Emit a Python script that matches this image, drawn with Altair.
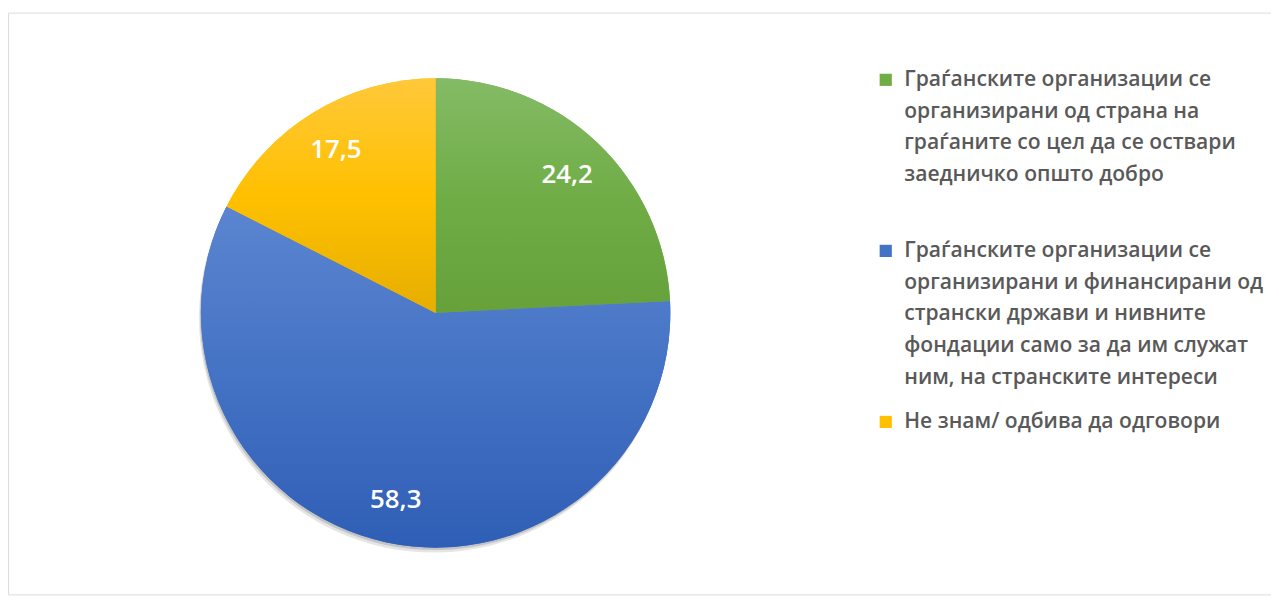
import altair as alt
import pandas as pd

categories = [
    "Граѓанските организации се\nорганизирани од страна на\nграѓаните со цел да се оствари\nзаедничко општо добро\n ",
    "Граѓанските организации се\nорганизирани и финансирани од\nстрански држави и нивните\nфондации само за да им служат\nним, на странските интереси",
    "Не знам/ одбива да одговори",
]
values = [24.2, 58.3, 17.5]
labels = ["24,2", "58,3", "17,5"]
colors = ["#70AD47", "#4472C4", "#FFC000"]
grad_light = ["#84BB65", "#5B85D0", "#FFC83A"]
grad_dark = ["#66A13A", "#2F5EB6", "#E6AE00"]

df = pd.DataFrame({"cat": categories, "val": values, "lab": labels, "ord": [0, 1, 2]})
total = float(sum(values))

cx, cy = 430, 302
R = 236

theta_scale = alt.Scale(domain=[0, total])

base = (
    alt.Chart(df)
    .transform_window(end="sum(val)", sort=[alt.SortField("ord")], frame=[None, 0])
    .transform_calculate(start="datum.end - datum.val", mid="datum.end - datum.val / 2")
    .encode(x=alt.value(cx), y=alt.value(cy))
)

shadow1 = base.mark_arc(radius=R, color="#000000", opacity=0.10, xOffset=-2, yOffset=5).encode(
    theta=alt.Theta("start:Q", scale=theta_scale), theta2="end:Q"
)
shadow2 = base.mark_arc(radius=R, color="#000000", opacity=0.14, xOffset=-1, yOffset=2.5).encode(
    theta=alt.Theta("start:Q", scale=theta_scale), theta2="end:Q"
)

pie = base.mark_arc(radius=R).encode(
    theta=alt.Theta("start:Q", scale=theta_scale),
    theta2="end:Q",
    color=alt.Color(
        "cat:N",
        sort=categories,
        scale=alt.Scale(domain=categories, range=colors),
        legend=alt.Legend(
            title=None,
            orient="none",
            legendX=872,
            legendY=57,
            symbolType="square",
            symbolSize=150,
            symbolStrokeWidth=0,
            labelFont="Open Sans",
            labelFontSize=21.2,
            labelFontWeight=600,
            labelColor="#595959",
            labelLimit=600,
            labelOffset=8,
            rowPadding=22,
            labelExpr="split(datum.label, '\\n')",
        ),
    ),
)

grad_layers = []
for i in range(len(values)):
    g = alt.LinearGradient(
        gradient="linear",
        x1=0, y1=0, x2=0, y2=1,
        stops=[
            alt.GradientStop(color=grad_light[i], offset=0),
            alt.GradientStop(color=colors[i], offset=0.5),
            alt.GradientStop(color=grad_dark[i], offset=1),
        ],
    )
    layer = (
        base.transform_filter(alt.datum.ord == i)
        .mark_arc(radius=R, color=g)
        .encode(theta=alt.Theta("start:Q", scale=theta_scale), theta2="end:Q")
    )
    grad_layers.append(layer)

text = base.mark_text(
    radius=192, font="Open Sans", fontSize=26, fontWeight=600, color="white"
).encode(theta=alt.Theta("mid:Q", scale=theta_scale), text="lab:N")

chart = (
    alt.layer(shadow1, shadow2, pie, *grad_layers, text)
    .properties(width=1270, height=585, padding={"top": 3, "left": 0, "right": 0, "bottom": 0})
    .configure_view(stroke="#d9d9d9", strokeWidth=1.5)
    .configure(style={"guide-label": {"lineHeight": 32}})
)

chart.save("out.html", embed_options={"renderer": "svg", "actions": False})
